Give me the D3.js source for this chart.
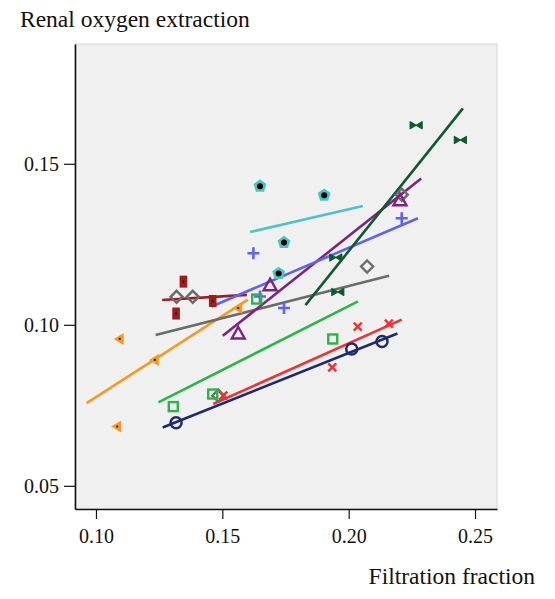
<!DOCTYPE html>
<html>
<head>
<meta charset="utf-8">
<script src="https://cdn.jsdelivr.net/npm/d3@7"></script>
<style>
  html, body { margin: 0; padding: 0; background: #fff; }
  svg text { font-family: "Liberation Serif", "Times New Roman", serif; fill: #111; }
</style>
</head>
<body>
<svg id="chart" width="555" height="599"></svg>
<script>
// ---------- data ----------
const xTicks = [0.10, 0.15, 0.20, 0.25];
const yTicks = [0.05, 0.10, 0.15];
const xTitle = "Filtration fraction";
const yTitle = "Renal oxygen extraction";

// series names (one per subject)
const seriesNames = ["orange", "darkred", "gray", "purple", "blue", "teal", "darkgreen", "green", "red", "navy"];

// points: [filtration fraction, oxygen extraction]
const orangePts    = [[0.1092, 0.0956], [0.1231, 0.0891], [0.1082, 0.0684], [0.1561, 0.1052]];
const darkredPts   = [[0.1346, 0.1134], [0.1317, 0.1035], [0.1462, 0.1074]];
const grayPts      = [[0.1319, 0.1087], [0.1383, 0.1087], [0.1484, 0.0780], [0.2073, 0.1181], [0.2210, 0.1404]];
const purplePts    = [[0.1563, 0.0973], [0.1689, 0.1123], [0.2203, 0.1387]];
const bluePts      = [[0.1623, 0.1222], [0.1649, 0.1088], [0.1744, 0.1052], [0.2210, 0.1331]];
const tealPts      = [[0.1649, 0.1433], [0.1903, 0.1405], [0.1744, 0.1258], [0.1723, 0.1162]];
const darkgreenPts = [[0.2267, 0.1620], [0.2442, 0.1574], [0.1949, 0.1209], [0.1957, 0.1102]];
const greenPts     = [[0.1306, 0.0746], [0.1462, 0.0785], [0.1636, 0.1080], [0.1937, 0.0956]];
const redPts       = [[0.1504, 0.0780], [0.1935, 0.0868], [0.2036, 0.0994], [0.2159, 0.1004]];
const navyPts      = [[0.1317, 0.0696], [0.2012, 0.0925], [0.2132, 0.0948]];

// fitted lines: [x0, y0, x1, y1]
const orangeFit    = [0.0963, 0.0757, 0.1601, 0.1078];
const darkredFit   = [0.1262, 0.1077, 0.1597, 0.1093];
const grayFit      = [0.1236, 0.0968, 0.2160, 0.1152];
const purpleFit    = [0.1502, 0.0966, 0.2287, 0.1454];
const blueFit      = [0.1458, 0.1057, 0.2274, 0.1331];
const tealFit      = [0.1610, 0.1288, 0.2056, 0.1369];
const darkgreenFit = [0.1829, 0.1061, 0.2452, 0.1672];
const greenFit     = [0.1247, 0.0759, 0.2037, 0.1073];
const redFit       = [0.1464, 0.0754, 0.2210, 0.1016];
const navyFit      = [0.1264, 0.0681, 0.2193, 0.0973];

// ---------- styling ----------
const colors = {
  orange: "#F59A23", darkred: "#9E1B20", gray: "#6B6B6B", purple: "#7B2480",
  blue: "#6262F2", teal: "#4DC3C3", darkgreen: "#0E5A2E", green: "#2DB34A",
  red: "#EE3338", navy: "#1F2A6E"
};
const points = { orange: orangePts, darkred: darkredPts, gray: grayPts, purple: purplePts,
  blue: bluePts, teal: tealPts, darkgreen: darkgreenPts, green: greenPts, red: redPts, navy: navyPts };
const fits = { orange: orangeFit, darkred: darkredFit, gray: grayFit, purple: purpleFit,
  blue: blueFit, teal: tealFit, darkgreen: darkgreenFit, green: greenFit, red: redFit, navy: navyFit };

const margin = { left: 75, right: 58, top: 44, bottom: 90 };
const W = 555, H = 599;
const svg = d3.select("#chart");

const x = d3.scaleLinear().domain([0.0917, 0.2587]).range([margin.left, W - margin.right]);
const y = d3.scaleLinear().domain([0.0428, 0.1872]).range([H - margin.bottom, margin.top]);

// plot background
svg.append("rect")
  .attr("x", x.range()[0]).attr("y", y.range()[1])
  .attr("width", x.range()[1] - x.range()[0]).attr("height", y.range()[0] - y.range()[1])
  .attr("fill", "#F0F0F0").attr("stroke", "#D4D4D4").attr("stroke-width", 1);

// fitted lines
const lineG = svg.append("g");
seriesNames.forEach(name => {
  const f = fits[name];
  lineG.append("line")
    .attr("x1", x(f[0])).attr("y1", y(f[1]))
    .attr("x2", x(f[2])).attr("y2", y(f[3]))
    .attr("stroke", colors[name]).attr("stroke-width", 2.6).attr("stroke-linecap", "butt");
});

// markers
const markG = svg.append("g");
function drawMarker(g, name, px, py) {
  const c = colors[name];
  const sg = g.append("g").attr("transform", `translate(${px},${py})`);
  switch (name) {
    case "orange":
      sg.append("path").attr("d", "M-5.5,0 L4.5,-6 L4.5,6 Z").attr("fill", c);
      sg.append("circle").attr("cx", 0.5).attr("cy", 0).attr("r", 1.1).attr("fill", "#222");
      break;
    case "darkred":
      sg.append("rect").attr("x", -3.8).attr("y", -6).attr("width", 7.6).attr("height", 12).attr("fill", c);
      sg.append("rect").attr("x", -0.7).attr("y", -1.5).attr("width", 1.4).attr("height", 3).attr("fill", "#222");
      break;
    case "gray":
      sg.append("path").attr("d", "M0,-6 L6,0 L0,6 L-6,0 Z").attr("fill", "none").attr("stroke", c).attr("stroke-width", 2.4);
      break;
    case "purple":
      sg.append("path").attr("d", "M0,-6.5 L6.5,5 L-6.5,5 Z").attr("fill", "none").attr("stroke", c).attr("stroke-width", 2.4);
      break;
    case "blue":
      sg.append("path").attr("d", "M-6,0 L6,0 M0,-6 L0,6").attr("stroke", c).attr("stroke-width", 2.6);
      break;
    case "teal":
      sg.append("path").attr("d", d3.symbol().type(d3.symbolStar).size(0)()).remove();
      const pent = d3.range(5).map(i => {
        const a = -Math.PI / 2 + i * 2 * Math.PI / 5;
        return [6.8 * Math.cos(a), 6.8 * Math.sin(a) + 0.8];
      });
      sg.append("path").attr("d", "M" + pent.map(p => p.join(",")).join("L") + "Z").attr("fill", c);
      sg.append("circle").attr("cx", 0).attr("cy", 0.8).attr("r", 3).attr("fill", "#000");
      break;
    case "darkgreen":
      sg.append("path").attr("d", "M-6,-3.5 L0,0 L-6,3.5 Z M6,-3.5 L0,0 L6,3.5 Z").attr("fill", c)
        .attr("stroke", c).attr("stroke-width", 1.2).attr("stroke-linejoin", "round");
      break;
    case "green":
      sg.append("rect").attr("x", -4.5).attr("y", -4.5).attr("width", 9).attr("height", 9)
        .attr("fill", "none").attr("stroke", c).attr("stroke-width", 2.4);
      break;
    case "red":
      sg.append("path").attr("d", "M-4,-4 L4,4 M-4,4 L4,-4").attr("stroke", c).attr("stroke-width", 2.5);
      break;
    case "navy":
      sg.append("circle").attr("r", 5.5).attr("fill", "none").attr("stroke", c).attr("stroke-width", 2.5);
      break;
  }
}
seriesNames.forEach(name => {
  points[name].forEach(p => drawMarker(markG, name, x(p[0]), y(p[1])));
});

// axes
const xAxis = svg.append("g").attr("transform", `translate(0,${y.range()[0]})`)
  .call(d3.axisBottom(x).tickValues(xTicks).tickFormat(d3.format(".2f")).tickSize(10).tickSizeOuter(0));
const yAxis = svg.append("g").attr("transform", `translate(${x.range()[0]},0)`)
  .call(d3.axisLeft(y).tickValues(yTicks).tickFormat(d3.format(".2f")).tickSize(11).tickSizeOuter(0));
[xAxis, yAxis].forEach(a => {
  a.select(".domain").attr("stroke", "#111").attr("stroke-width", 1.6);
  a.selectAll(".tick line").attr("stroke", "#111").attr("stroke-width", 1.2);
  a.selectAll(".tick text").attr("font-family", "Liberation Serif, serif").attr("font-size", 20).attr("fill", "#111");
});
xAxis.selectAll(".tick text").attr("dy", "1.05em");
yAxis.selectAll(".tick text").attr("dx", "-0.1em");

// titles
svg.append("text").attr("x", 20).attr("y", 27).attr("font-size", 23.5).text(yTitle);
svg.append("text").attr("x", 535).attr("y", 584).attr("text-anchor", "end").attr("font-size", 23.5).text(xTitle);
</script>
</body>
</html>
